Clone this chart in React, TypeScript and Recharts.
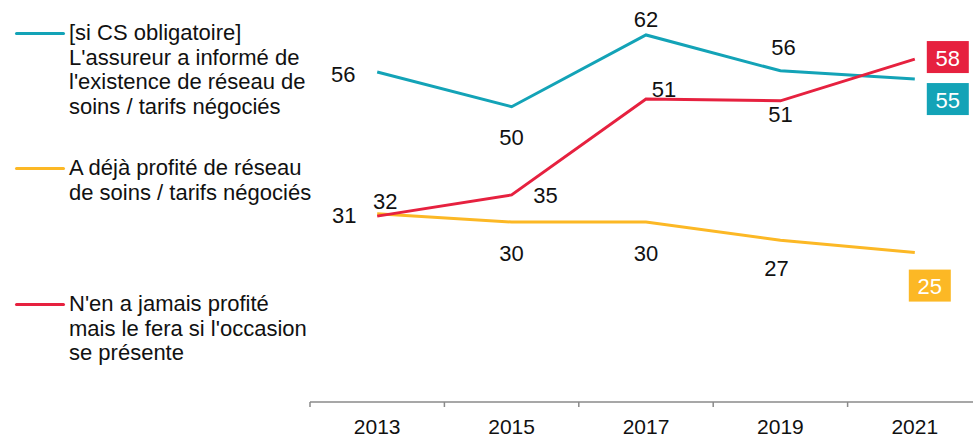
import { LabelList, Line, LineChart, XAxis, YAxis } from "recharts";

const years = ["2013", "2015", "2017", "2019", "2021"];
const informe = [55.7, 49.8, 62, 55.9, 54.5];
const profite = [31.6, 30.2, 30.2, 27.1, 25];
const fera = [31.2, 34.8, 51.1, 50.8, 57.9];

const TEAL = "#13a3b7";
const YELLOW = "#fcb825";
const RED = "#e6213f";
const FONT = "'Liberation Sans', Arial, sans-serif";
const HALF_BAND = 67.2;

const data = years.map((y, i) => ({
  year: y,
  informe: informe[i],
  profite: profite[i],
  fera: fera[i],
}));

// label offsets from each point (last point is a coloured box)
const labelOffsets: Record<string, [number, number][]> = {
  informe: [[-34, 2], [0, 31], [0, -15], [3, -23], [33, 20]],
  profite: [[8, -12], [0, 31], [0, 31], [-4, 28], [15, 33]],
  fera: [[-33, -1], [34, 1], [18, -10], [0, 14], [33, -2]],
};

const makeLabel = (key: string, color: string) => (props: any) => {
  const { x, y, value, index } = props;
  const [dx, dy] = labelOffsets[key][index];
  const cx = x + dx;
  const cy = y + dy;
  const txt = String(Math.round(value));
  if (index === years.length - 1) {
    return (
      <g>
        <rect x={cx - 21} y={cy - 16} width={42} height={32} fill={color} />
        <text x={cx} y={cy + 1} textAnchor="middle" dominantBaseline="central"
          fill="#fff" fontSize={22} fontFamily={FONT}>{txt}</text>
      </g>
    );
  }
  return (
    <text x={cx} y={cy} textAnchor="middle" dominantBaseline="central"
      fill="#111" fontSize={22} fontFamily={FONT}>{txt}</text>
  );
};

const YearTick = (props: any) => {
  const { x, y, payload } = props;
  return (
    <g>
      <line x1={x - HALF_BAND} x2={x - HALF_BAND} y1={y} y2={y + 5} stroke="#8a8a8a" strokeWidth={1.5} />
      <text x={x} y={y + 24} textAnchor="middle" dominantBaseline="central"
        fill="#111" fontSize={21} fontFamily={FONT}>{payload.value}</text>
    </g>
  );
};

const legendItems = [
  { color: TEAL, top: 21, lines: ["[si CS obligatoire]", "L'assureur a informé de", "l'existence de réseau de", "soins / tarifs négociés"] },
  { color: YELLOW, top: 156, lines: ["A déjà profité de réseau", "de soins / tarifs négociés"] },
  { color: RED, top: 292, lines: ["N'en a jamais profité", "mais le fera si l'occasion", "se présente"] },
];

export default function App() {
  return (
    <div style={{ position: "absolute", left: 0, top: 0, width: 973, height: 436, overflow: "hidden", background: "#fff" }}>
      <LineChart width={990} height={436} data={data}
        margin={{ top: 2, right: 8, bottom: 0, left: 310 }}>
        <XAxis dataKey="year" height={34} padding={{ left: HALF_BAND, right: HALF_BAND }}
          axisLine={{ stroke: "#8a8a8a", strokeWidth: 1.5 }} tickLine={false}
          tickSize={0} tickMargin={0}
          tick={<YearTick />} interval={0} />
        <YAxis hide domain={[-0.4, 67.6]} />
        <Line dataKey="informe" stroke={TEAL} strokeWidth={3} dot={false} isAnimationActive={false}>
          <LabelList dataKey="informe" content={makeLabel("informe", TEAL)} />
        </Line>
        <Line dataKey="profite" stroke={YELLOW} strokeWidth={3} dot={false} isAnimationActive={false}>
          <LabelList dataKey="profite" content={makeLabel("profite", YELLOW)} />
        </Line>
        <Line dataKey="fera" stroke={RED} strokeWidth={3} dot={false} isAnimationActive={false}>
          <LabelList dataKey="fera" content={makeLabel("fera", RED)} />
        </Line>
      </LineChart>
      {legendItems.map((it, i) => (
        <div key={i} style={{ position: "absolute", left: 0, top: it.top, fontFamily: FONT, fontSize: 22, lineHeight: "24.5px", color: "#111" }}>
          <div style={{ position: "absolute", left: 15, top: 11, width: 50, height: 3, background: it.color, borderRadius: 2 }} />
          <div style={{ position: "absolute", left: 69, top: 0, whiteSpace: "nowrap" }}>
            {it.lines.map((l, j) => <div key={j}>{l}</div>)}
          </div>
        </div>
      ))}
    </div>
  );
}
